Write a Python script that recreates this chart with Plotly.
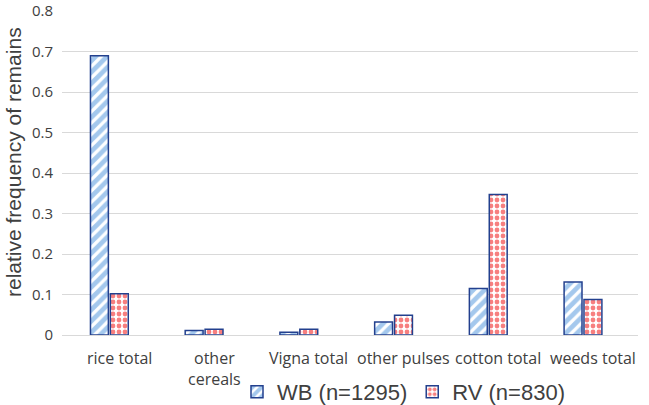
import plotly.graph_objects as go

categories = ["rice total", "other<br>cereals", "Vigna total", "other pulses", "cotton total", "weeds total"]
wb_values = [0.69, 0.011, 0.007, 0.032, 0.115, 0.131]
rv_values = [0.102, 0.014, 0.014, 0.049, 0.347, 0.088]
y_ticks = [0, 0.1, 0.2, 0.3, 0.4, 0.5, 0.6, 0.7, 0.8]
y_tick_labels = ["0", "0.1", "0.2", "0.3", "0.4", "0.5", "0.6", "0.7", "0.8"]
y_title = "relative frequency of remains"

W, H = 649, 405
L, R, T, B = 62, 11, 11, 70
pw = W - L - R
ph = H - T - B

fig = go.Figure()
fig.add_trace(go.Bar(
    x=categories, y=wb_values, name="WB (n=1295)",
    marker=dict(color="white", line=dict(color="#23408e", width=1.5),
                pattern=dict(shape="/", fgcolor="#4a92db", bgcolor="white", size=8, solidity=0.6)),
))
fig.add_trace(go.Bar(
    x=categories, y=rv_values, name="RV (n=830)",
    marker=dict(color="white", line=dict(color="#23408e", width=1.5),
                pattern=dict(shape=".", fgcolor="#f00000", bgcolor="white", size=6, solidity=0.5)),
))

# category labels (real text), slightly offset right as in the reference
for c in categories:
    fig.add_annotation(x=c, xref="x", y=0, yref="paper", yanchor="top", yshift=-10, xshift=10,
                       text=c, showarrow=False,
                       font=dict(size=16, family="Open Sans, sans-serif", color="#404040"))

fig.add_annotation(x=(13 - L) / pw, xref="paper", y=(H - B - 162) / ph, yref="paper",
                   text=y_title, textangle=-90, showarrow=False, xanchor="center", yanchor="middle",
                   font=dict(size=21, family="Liberation Sans, Arial, sans-serif", color="#404040"))

fig.update_layout(
    width=W, height=H,
    margin=dict(l=L, r=R, t=T, b=B, autoexpand=False),
    paper_bgcolor="white", plot_bgcolor="white",
    barmode="group", bargap=0.58, bargroupgap=0.1,
    font=dict(family="Open Sans, Liberation Sans, sans-serif", color="#404040"),
    legend=dict(orientation="h", x=(237 - L) / pw, xanchor="left", y=-(392 - (H - B)) / ph, yanchor="middle",
                font=dict(size=22, family="Liberation Sans, Arial, sans-serif", color="#404040"),
                itemwidth=30, traceorder="normal", tracegroupgap=0),
    showlegend=True,
)
fig.update_yaxes(
    range=[0, 0.8005], tickvals=y_ticks, ticktext=y_tick_labels, automargin=False,
    showgrid=True, gridcolor="#d9d9d9", gridwidth=1,
    zeroline=True, zerolinecolor="#d9d9d9", zerolinewidth=1,
    tickfont=dict(size=15, color="#404040"), ticks="", ticklabelstandoff=8,
    ticklabeloverflow="allow",
)
fig.update_xaxes(
    showline=False, ticks="", showticklabels=False, automargin=False,
)

fig.write_html("out.html", config={"displayModeBar": False},
               post_script="document.body.style.margin='0';")
